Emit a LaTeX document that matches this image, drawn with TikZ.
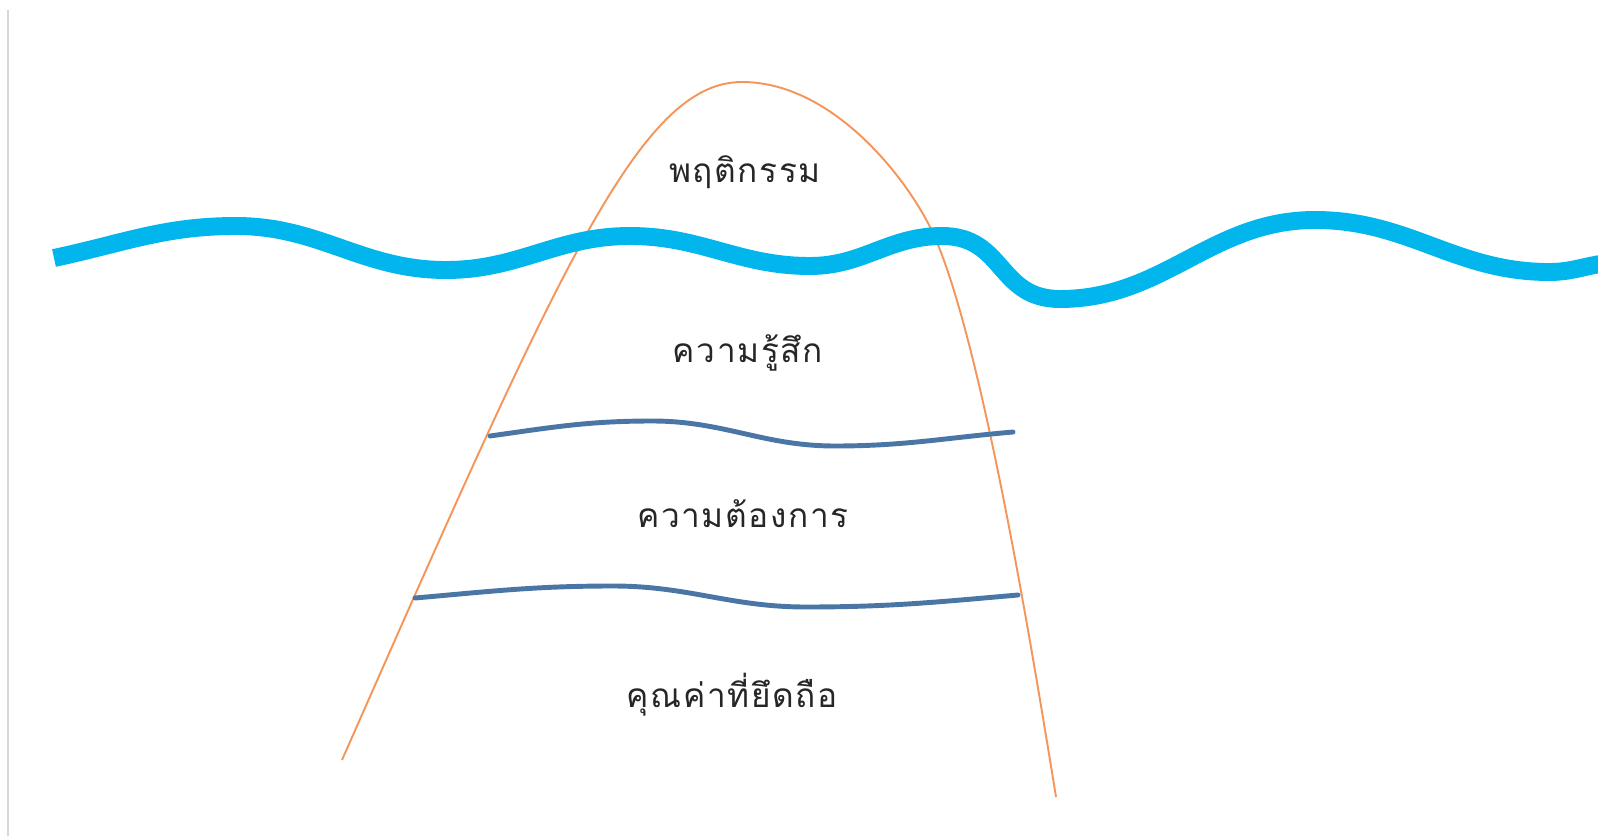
\documentclass[tikz,border=0pt]{standalone}
\usepackage{fontspec}
\newfontfamily\thaifont[Script=Thai,LetterSpace=5]{Loma}
\definecolor{seacyan}{RGB}{0,182,237}
\definecolor{layerblue}{RGB}{74,118,166}
\definecolor{hillorange}{RGB}{244,150,90}
\definecolor{edgegray}{RGB}{215,215,215}

\begin{document}
\begin{tikzpicture}[x=0.02cm, y=0.02cm,
  hill/.style={draw=hillorange, line width=1.1pt},
  sea/.style={draw=seacyan, line width=10.2pt},
  layer/.style={draw=layerblue, line width=2.8pt, line cap=round},
  lbl/.style={font=\thaifont\fontsize{19}{23}\selectfont, text=black!85, anchor=base, inner sep=0pt}]
  \useasboundingbox (0,0) rectangle (1598,836);
  \draw[edgegray, line width=1pt] (8,0) -- (8,826);

  % iceberg outline
  \draw[hill] (342,76) .. controls (560,570) and (640,754) .. (742,754)
    .. controls (830,754) and (903,663) .. (930,609)
    .. controls (979,511) and (1032,187) .. (1056,39);

  % water line
  \draw[sea] (54,578) to[out=12,in=180] (236,610) to[out=0,in=180] (446,566)
    to[out=0,in=180] (630,600) to[out=0,in=180] (810,570)
    to[out=0,in=180] (942,600) to[out=0,in=180,looseness=1.2] (1060,537)
    to[out=0,in=180] (1315,616) to[out=0,in=180] (1549,564)
    to[out=0,in=190] (1600,572);

  % layers below the water
  \draw[layer] (490,400) to[out=8,in=180] (652,415) to[out=0,in=180] (835,390)
    to[out=0,in=185] (1013,404);
  \draw[layer] (415,238) to[out=5,in=180] (613,250) to[out=0,in=180] (806,229)
    to[out=0,in=185] (1018,241);

  \node[lbl] (behaviour) at (745,653) {พฤติกรรม};
  \node[lbl] (feeling) at (748,474) {ความรู้สึก};
  \node[lbl] (need) at (743,309) {ความต้องการ};
  \node[lbl] (value) at (732,129) {คุณค่าที่ยึดถือ};
\end{tikzpicture}
\end{document}
